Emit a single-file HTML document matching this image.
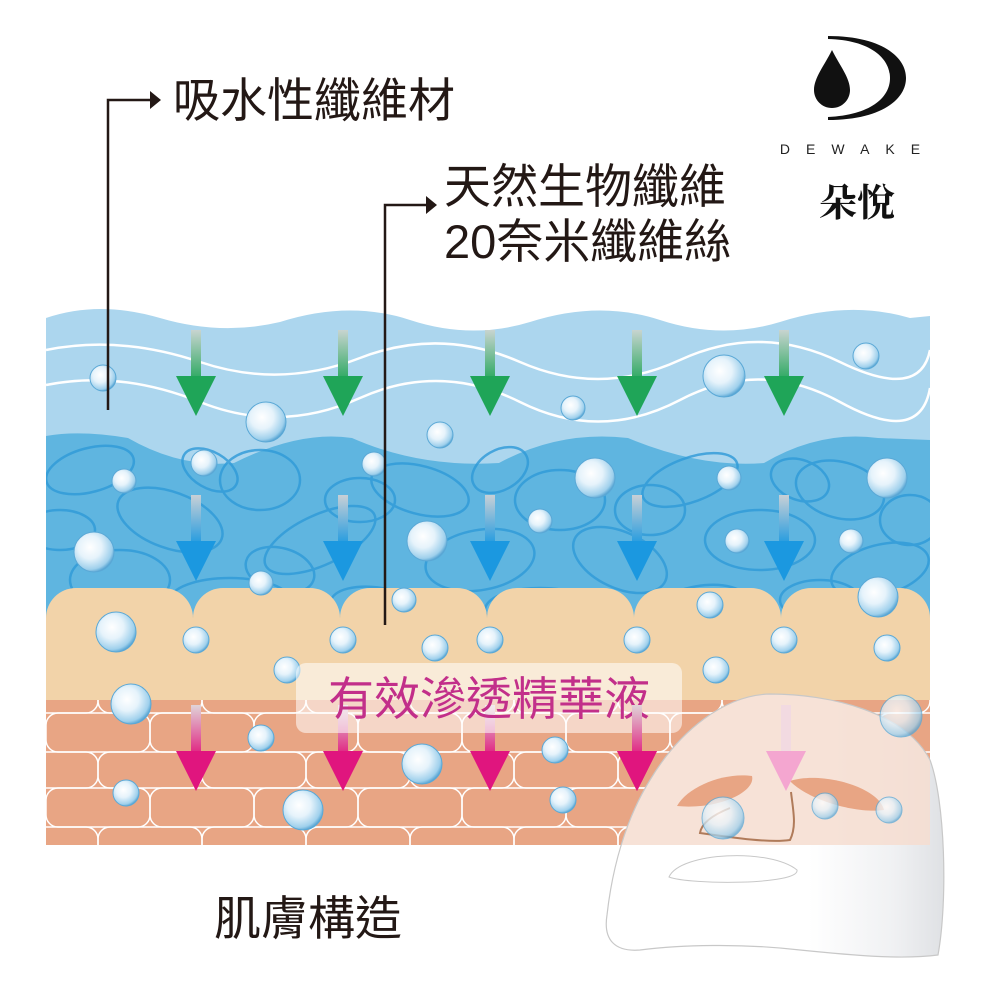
<!DOCTYPE html>
<html><head><meta charset="utf-8"><style>
html,body{margin:0;padding:0;background:#fff;}
svg{display:block}
text{font-family:"Liberation Sans","Noto Sans CJK TC",sans-serif;}
</style></head><body>
<svg width="1000" height="1000" viewBox="0 0 1000 1000" xmlns="http://www.w3.org/2000/svg">
<defs>
<radialGradient id="bub" cx="0.4" cy="0.38" r="0.65">
<stop offset="0" stop-color="#ffffff"/><stop offset="0.45" stop-color="#e6f3fb"/><stop offset="0.85" stop-color="#9fd0ec"/><stop offset="1" stop-color="#4e9fd0"/></radialGradient>
<linearGradient id="gs" x1="0" y1="0" x2="0" y2="1"><stop offset="0" stop-color="#c8d4d0"/><stop offset="1" stop-color="#2aa860"/></linearGradient>
<linearGradient id="bs" x1="0" y1="0" x2="0" y2="1"><stop offset="0" stop-color="#c8d0d6"/><stop offset="1" stop-color="#1f9ae0"/></linearGradient>
<linearGradient id="ps" x1="0" y1="0" x2="0" y2="1"><stop offset="0" stop-color="#e0d4d8"/><stop offset="1" stop-color="#e0207f"/></linearGradient>
<linearGradient id="mk" x1="0" y1="0" x2="1" y2="0"><stop offset="0.6" stop-color="#ffffff"/><stop offset="0.85" stop-color="#f0f1f3"/><stop offset="1" stop-color="#dfe1e4"/></linearGradient>
<clipPath id="mid"><rect x="46" y="420" width="884" height="230"/></clipPath>
<clipPath id="brk"><rect x="46" y="700" width="884" height="145"/></clipPath>
<clipPath id="skin"><rect x="46" y="300" width="884" height="545"/></clipPath>
<path id="mask" d="M770,694 C830,694 905,712 930,760 C945,800 948,900 938,955 C900,960 850,955 800,950 C740,943 680,945 640,950 C615,952 603,940 607,915 C612,870 625,820 650,780 C680,730 725,695 770,694 Z"/>
</defs>

<path d="M46,318 Q99,300 160,318 T280,322 Q349,300 410,320 T530,322 Q599,300 660,320 T780,322 Q849,300 910,318 L930,316 L930,480 L46,480 Z" fill="#acd6ee"/>
<path d="M46,350 Q120,335 200,362 T360,358 T520,362 T680,360 T840,362 T930,350" fill="none" stroke="#fff" stroke-width="2.5"/>
<path d="M46,385 Q120,370 200,402 T360,398 T520,402 T680,400 T840,402 T930,388" fill="none" stroke="#fff" stroke-width="2.5"/>
<path d="M46,436 Q80,430 128,438 Q180,468 234,463 Q300,430 352,438 Q420,468 499,463 Q560,430 628,438 Q700,468 764,463 Q820,430 878,438 L930,440 L930,650 L46,650 Z" fill="#5fb5e0"/>
<g clip-path="url(#mid)" fill="none" stroke="#2f9ad8" stroke-width="2.5" opacity="0.8">
<ellipse cx="90" cy="470" rx="45" ry="22" transform="rotate(-15 90 470)"/>
<ellipse cx="170" cy="520" rx="55" ry="28" transform="rotate(20 170 520)"/>
<ellipse cx="260" cy="480" rx="40" ry="30"/>
<ellipse cx="320" cy="540" rx="60" ry="25" transform="rotate(-25 320 540)"/>
<ellipse cx="120" cy="580" rx="50" ry="30"/>
<ellipse cx="420" cy="490" rx="50" ry="24" transform="rotate(15 420 490)"/>
<ellipse cx="480" cy="560" rx="55" ry="30" transform="rotate(-10 480 560)"/>
<ellipse cx="560" cy="500" rx="45" ry="30"/>
<ellipse cx="620" cy="560" rx="50" ry="28" transform="rotate(25 620 560)"/>
<ellipse cx="690" cy="480" rx="50" ry="22" transform="rotate(-20 690 480)"/>
<ellipse cx="760" cy="540" rx="55" ry="30"/>
<ellipse cx="840" cy="490" rx="45" ry="28" transform="rotate(15 840 490)"/>
<ellipse cx="880" cy="570" rx="50" ry="25" transform="rotate(-15 880 570)"/>
<ellipse cx="230" cy="600" rx="60" ry="22"/>
<ellipse cx="380" cy="610" rx="50" ry="22" transform="rotate(10 380 610)"/>
<ellipse cx="540" cy="610" rx="55" ry="22"/>
<ellipse cx="700" cy="610" rx="50" ry="24" transform="rotate(-10 700 610)"/>
<ellipse cx="60" cy="530" rx="35" ry="20"/>
<ellipse cx="210" cy="470" rx="30" ry="18" transform="rotate(30 210 470)"/>
<ellipse cx="360" cy="500" rx="35" ry="22"/>
<ellipse cx="500" cy="470" rx="30" ry="20" transform="rotate(-30 500 470)"/>
<ellipse cx="650" cy="510" rx="35" ry="25"/>
<ellipse cx="800" cy="480" rx="30" ry="20" transform="rotate(20 800 480)"/>
<ellipse cx="910" cy="520" rx="30" ry="25"/>
<ellipse cx="280" cy="570" rx="35" ry="22" transform="rotate(15 280 570)"/>
<ellipse cx="820" cy="600" rx="40" ry="20"/>
</g>
<rect x="46" y="625" width="884" height="80" fill="#f2d3a9"/>
<g fill="#f2d3a9">
<rect x="46" y="588" width="147" height="100" rx="30"/>
<rect x="193" y="588" width="147" height="100" rx="30"/>
<rect x="340" y="588" width="147" height="100" rx="30"/>
<rect x="487" y="588" width="147" height="100" rx="30"/>
<rect x="634" y="588" width="147" height="100" rx="30"/>
<rect x="781" y="588" width="149" height="100" rx="30"/>
</g>
<rect x="46" y="700" width="884" height="145" fill="#e8a584"/>
<g clip-path="url(#brk)" fill="none" stroke="#fff" stroke-width="1.5">
<rect x="-6" y="682" width="104" height="31" rx="12"/><rect x="98" y="682" width="104" height="31" rx="12"/><rect x="202" y="682" width="104" height="31" rx="12"/><rect x="306" y="682" width="104" height="31" rx="12"/><rect x="410" y="682" width="104" height="31" rx="12"/><rect x="514" y="682" width="104" height="31" rx="12"/><rect x="618" y="682" width="104" height="31" rx="12"/><rect x="722" y="682" width="104" height="31" rx="12"/><rect x="826" y="682" width="104" height="31" rx="12"/>
<rect x="46" y="713" width="104" height="39" rx="12"/><rect x="150" y="713" width="104" height="39" rx="12"/><rect x="254" y="713" width="104" height="39" rx="12"/><rect x="358" y="713" width="104" height="39" rx="12"/><rect x="462" y="713" width="104" height="39" rx="12"/><rect x="566" y="713" width="104" height="39" rx="12"/><rect x="670" y="713" width="104" height="39" rx="12"/><rect x="774" y="713" width="104" height="39" rx="12"/><rect x="878" y="713" width="104" height="39" rx="12"/>
<rect x="-6" y="752" width="104" height="36" rx="12"/><rect x="98" y="752" width="104" height="36" rx="12"/><rect x="202" y="752" width="104" height="36" rx="12"/><rect x="306" y="752" width="104" height="36" rx="12"/><rect x="410" y="752" width="104" height="36" rx="12"/><rect x="514" y="752" width="104" height="36" rx="12"/><rect x="618" y="752" width="104" height="36" rx="12"/><rect x="722" y="752" width="104" height="36" rx="12"/><rect x="826" y="752" width="104" height="36" rx="12"/>
<rect x="46" y="788" width="104" height="39" rx="12"/><rect x="150" y="788" width="104" height="39" rx="12"/><rect x="254" y="788" width="104" height="39" rx="12"/><rect x="358" y="788" width="104" height="39" rx="12"/><rect x="462" y="788" width="104" height="39" rx="12"/><rect x="566" y="788" width="104" height="39" rx="12"/><rect x="670" y="788" width="104" height="39" rx="12"/><rect x="774" y="788" width="104" height="39" rx="12"/><rect x="878" y="788" width="104" height="39" rx="12"/>
<rect x="-6" y="827" width="104" height="40" rx="12"/><rect x="98" y="827" width="104" height="40" rx="12"/><rect x="202" y="827" width="104" height="40" rx="12"/><rect x="306" y="827" width="104" height="40" rx="12"/><rect x="410" y="827" width="104" height="40" rx="12"/><rect x="514" y="827" width="104" height="40" rx="12"/><rect x="618" y="827" width="104" height="40" rx="12"/><rect x="722" y="827" width="104" height="40" rx="12"/><rect x="826" y="827" width="104" height="40" rx="12"/>
</g>

<g>
<g id="ga"><rect x="191" y="330" width="10" height="50" fill="url(#gs)"/><path d="M176,376 L216,376 L196,416 Z" fill="#1fa558"/></g>
<use href="#ga" x="147"/><use href="#ga" x="294"/><use href="#ga" x="441"/><use href="#ga" x="588"/>
<g id="ba"><rect x="191" y="495" width="10" height="50" fill="url(#bs)"/><path d="M176,541 L216,541 L196,581 Z" fill="#1b98e0"/></g>
<use href="#ba" x="147"/><use href="#ba" x="294"/><use href="#ba" x="441"/><use href="#ba" x="588"/>
<g id="pa"><rect x="191" y="705" width="10" height="50" fill="url(#ps)"/><path d="M176,751 L216,751 L196,791 Z" fill="#e0157e"/></g>
<use href="#pa" x="147"/><use href="#pa" x="294"/><use href="#pa" x="441"/>
</g>

<g fill="url(#bub)" stroke="#5aa8d6" stroke-width="1">
<circle cx="103" cy="378" r="13"/><circle cx="266" cy="422" r="20"/><circle cx="440" cy="435" r="13"/><circle cx="573" cy="408" r="12"/><circle cx="724" cy="376" r="21"/><circle cx="866" cy="356" r="13"/>
<circle cx="204" cy="463" r="13"/><circle cx="124" cy="481" r="12"/><circle cx="374" cy="464" r="12"/><circle cx="595" cy="478" r="20"/><circle cx="729" cy="478" r="12"/><circle cx="887" cy="478" r="20"/>
<circle cx="94" cy="552" r="20"/><circle cx="427" cy="541" r="20"/><circle cx="540" cy="521" r="12"/><circle cx="737" cy="541" r="12"/><circle cx="851" cy="541" r="12"/>
<circle cx="261" cy="583" r="12"/><circle cx="404" cy="600" r="12"/><circle cx="710" cy="605" r="13"/><circle cx="878" cy="597" r="20"/>
<circle cx="116" cy="632" r="20"/><circle cx="196" cy="640" r="13"/><circle cx="343" cy="640" r="13"/><circle cx="435" cy="648" r="13"/><circle cx="490" cy="640" r="13"/><circle cx="637" cy="640" r="13"/><circle cx="784" cy="640" r="13"/><circle cx="887" cy="648" r="13"/>
<circle cx="287" cy="670" r="13"/><circle cx="716" cy="670" r="13"/>
<circle cx="131" cy="704" r="20"/><circle cx="261" cy="738" r="13"/><circle cx="422" cy="764" r="20"/><circle cx="555" cy="750" r="13"/>
<circle cx="126" cy="793" r="13"/><circle cx="303" cy="810" r="20"/><circle cx="563" cy="800" r="13"/>
</g>

<rect x="296" y="663" width="386" height="70" rx="10" fill="#fff" opacity="0.55"/>
<text x="489" y="715" text-anchor="middle" font-size="46" fill="#c22f8a">有效滲透精華液</text>
<use href="#pa" x="441"/>

<!-- mask -->
<use href="#mask" fill="url(#mk)"/>
<g clip-path="url(#skin)"><use href="#mask" fill="#f6ddd0" opacity="0.85"/></g>
<use href="#mask" fill="none" stroke="#c8c8c8" stroke-width="1.2"/>
<g fill="#e8a584">
<path d="M677,806 C688,786 725,772 752,776 C756,792 718,810 677,806 Z"/>
<path d="M790,781 C820,771 878,786 884,810 C856,814 808,800 790,781 Z"/>
</g>
<path d="M791,792 C793,810 797,826 790,840 C770,843 735,838 700,833 C702,820 720,812 730,808" fill="none" stroke="#b07b5a" stroke-width="2"/>
<path d="M669,877 C680,852 770,848 797,870 C800,885 690,885 669,877 Z" fill="#fff" stroke="#c8c8c8" stroke-width="1"/>
<g fill="url(#bub)" stroke="#5aa8d6" stroke-width="1" opacity="0.75">
<circle cx="723" cy="818" r="21"/><circle cx="825" cy="806" r="13"/><circle cx="889" cy="810" r="13"/><circle cx="901" cy="716" r="21"/>
</g>
<g><rect x="781" y="705" width="10" height="50" fill="#f0d8e4" opacity="0.8"/><path d="M766,751 L806,751 L786,791 Z" fill="#f4a6d0"/></g>

<g stroke="#231815" stroke-width="2.5" fill="none">
<path d="M108,410 L108,100 L152,100"/>
<path d="M385,625 L385,205 L428,205"/>
</g>
<path d="M150,91 L161,100 L150,109 Z" fill="#231815"/>
<path d="M426,196 L437,205 L426,214 Z" fill="#231815"/>
<g fill="#231815" font-size="47">
<text x="173" y="117">吸水性纖維材</text>
<text x="444" y="203">天然生物纖維</text>
<text x="444" y="258">20奈米纖維絲</text>
<text x="214" y="935" font-size="47">肌膚構造</text>
</g>

<path d="M828,36 C880,36 906,56 906,78 C906,100 880,120 828,120 L828,117 C870,115 890,98 890,78 C890,58 870,40 828,39 Z" fill="#111"/>
<path d="M832,50 C824,66 814,78 814,90 C814,100 822,108 832,108 C842,108 850,100 850,90 C850,78 840,66 832,50 Z" fill="#111"/>
<text x="858" y="154" text-anchor="middle" font-size="14" letter-spacing="16" fill="#222">DEWAKE</text>
<text x="857" y="216" text-anchor="middle" font-size="38" font-weight="bold" fill="#111" style="font-family:'Noto Serif CJK SC','Noto Sans CJK TC',serif">朵悅</text>
</svg>
</body></html>
